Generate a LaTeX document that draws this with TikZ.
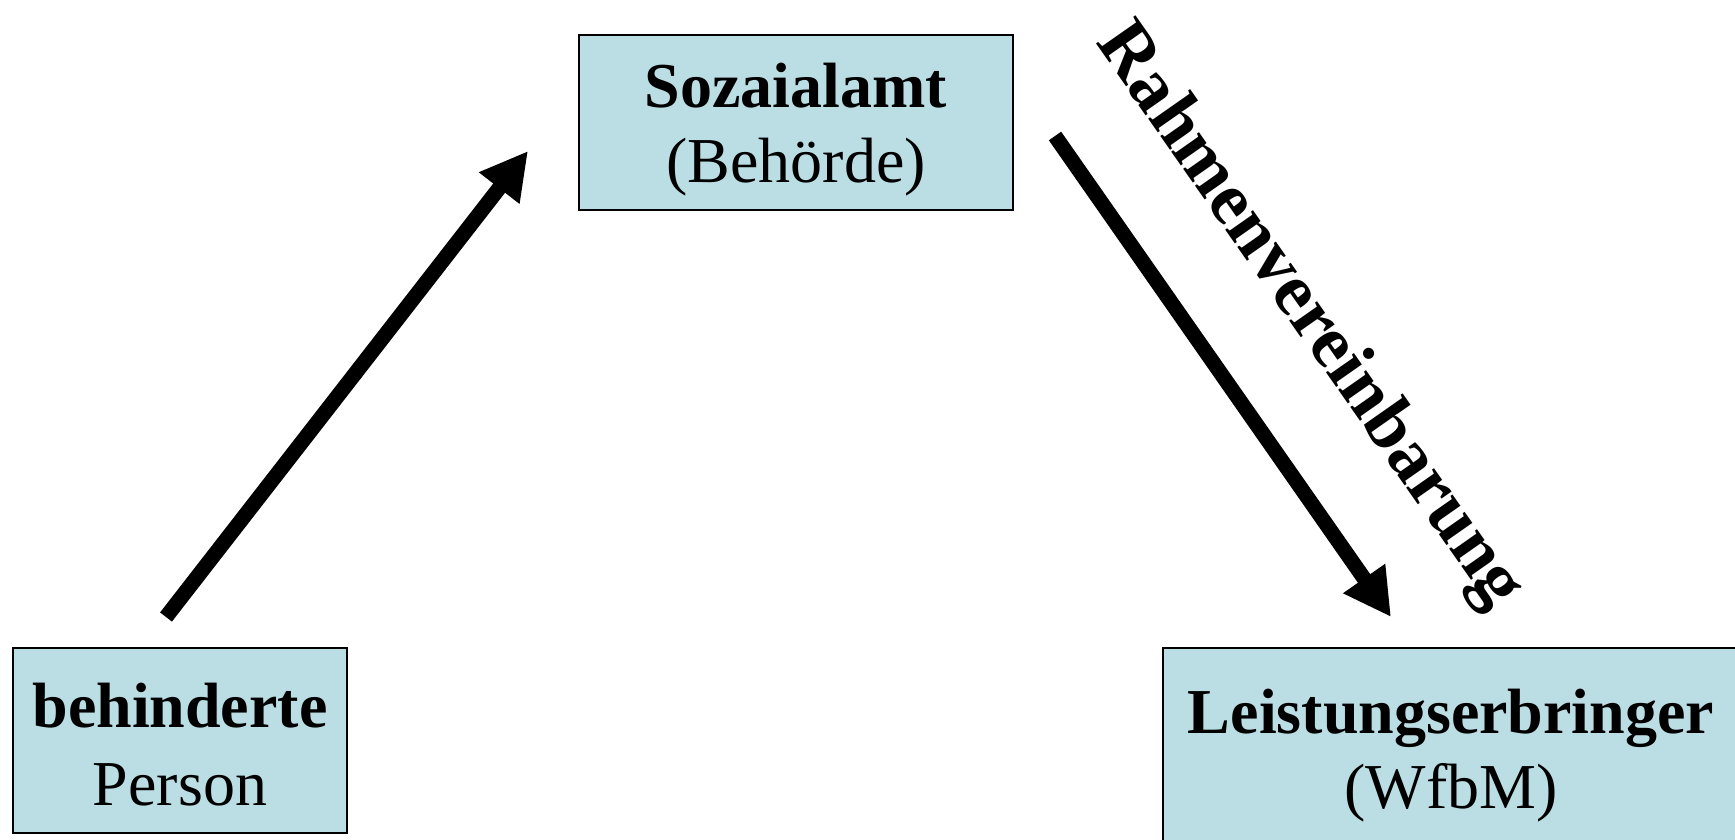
\documentclass[tikz,border=0pt]{standalone}
\usepackage{fontspec}
\setmainfont{Liberation Serif}
\usetikzlibrary{arrows.meta}

\definecolor{boxblue}{RGB}{187,222,228}

\tikzset{
  party/.style={draw=black, line width=2pt, fill=boxblue, inner sep=0pt,
    align=center, font=\fontsize{64}{75}\selectfont},
  flow/.style={line width=15pt, line cap=butt,
    -{Triangle[length=47pt,width=48pt]}},
  deal/.style={font=\fontsize{74}{80}\selectfont\bfseries, inner sep=0pt}
}

\begin{document}
\begin{tikzpicture}[x=1pt,y=-1pt]
  \useasboundingbox (0,0) rectangle (1735,839);

  % the three parties
  \node[party, minimum width=434pt, minimum height=175pt] (amt) at (796,122.5)
    {\rule{0pt}{65pt}\textbf{Sozaialamt}\\(Behörde)\rule[-20pt]{0pt}{20pt}};
  \node[party, minimum width=334pt, minimum height=185pt,
    font=\fontsize{64}{78}\selectfont] (person) at (180,740.5)
    {\rule{0pt}{65pt}\textbf{behinderte}\\Person\rule[-14pt]{0pt}{14pt}};
  \node[party, minimum width=576pt, minimum height=212pt] (werk) at (1451,754)
    {\rule{0pt}{55pt}\textbf{Leistungserbringer}\\(WfbM)\rule[-22pt]{0pt}{22pt}};

  % free ends of the two arrows
  \coordinate (p-out) at (166,617);
  \coordinate (amt-in) at (528,151);
  \coordinate (amt-out) at (1055,136);
  \coordinate (werk-in) at (1391,617);

  \draw[flow] (p-out) -- (amt-in);
  \draw[flow] (amt-out) -- (werk-in);

  % label along the agreement arrow
  \node[deal, rotate=-55, anchor=base] (rv) at (1294,327) {Rahmenvereinbarung};
\end{tikzpicture}
\end{document}
